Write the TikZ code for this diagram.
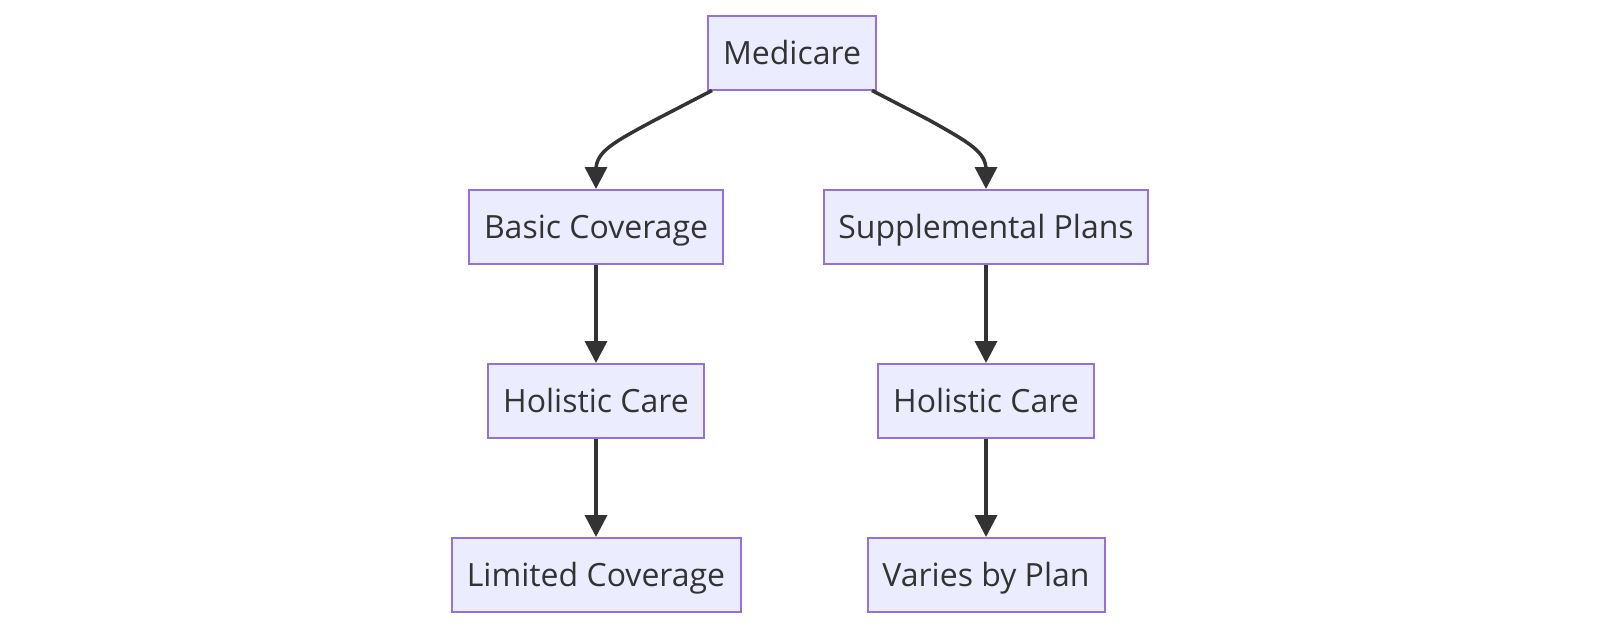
\documentclass[tikz,border=0pt]{standalone}
\usepackage{fontspec}
\setmainfont{Open Sans}
\usetikzlibrary{arrows.meta}
\definecolor{boxfill}{HTML}{ECECFF}
\definecolor{boxline}{HTML}{9370DB}
\definecolor{ink}{HTML}{333333}
\tikzset{
  box/.style={draw=boxline, fill=boxfill, line width=1pt, inner sep=0pt,
    minimum height=37pt, text height=13pt, text depth=1.2pt, text=ink,
    font=\fontsize{16pt}{19pt}\selectfont},
  edge/.style={draw=ink, line width=1.75pt, -{Triangle[length=11pt,width=11pt]}}
}
\begin{document}
\begin{tikzpicture}[x=0.5pt,y=-0.5pt]
\useasboundingbox (0,0) rectangle (1600,628);
\node[box, minimum width=84pt] (med) at (792,52.5) {Medicare};
\node[box, minimum width=127pt] (basic) at (596,227) {Basic Coverage};
\node[box, minimum width=162pt] (supp) at (986,227) {Supplemental Plans};
\node[box, minimum width=108pt] (holl) at (596,401) {Holistic Care};
\node[box, minimum width=108pt] (holr) at (986,401) {Holistic Care};
\node[box, minimum width=144.5pt] (lim) at (596,575) {Limited Coverage};
\node[box, minimum width=118.5pt] (var) at (986,575) {Varies by Plan};
\coordinate (ml) at ([xshift=2.5pt]med.south west);
\coordinate (mr) at ([xshift=-2.5pt]med.south east);
\coordinate (cl) at (655,120);
\coordinate (cr) at (929,120);
\draw[edge] (ml) -- (cl) .. controls (612,143) and (596,152) .. (596,170) -- (basic.north);
\draw[edge] (mr) -- (cr) .. controls (970,143) and (986,152) .. (986,170) -- (supp.north);
\draw[edge] (basic) -- (holl);
\draw[edge] (holl) -- (lim);
\draw[edge] (supp) -- (holr);
\draw[edge] (holr) -- (var);
\end{tikzpicture}
\end{document}
